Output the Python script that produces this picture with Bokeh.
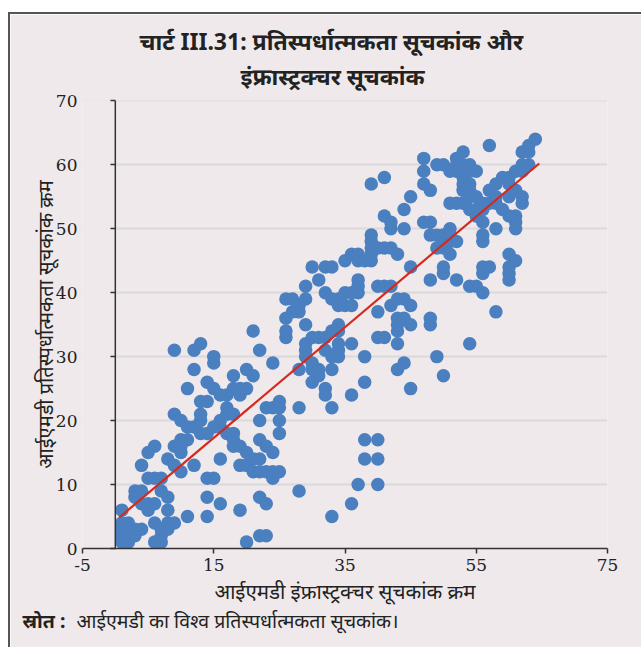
from bokeh.plotting import figure
from bokeh.models import FixedTicker, Title, Span
from bokeh.embed import file_html
from bokeh.resources import INLINE

# IMD infrastructure index rank (x) vs IMD competitiveness index rank (y)
infra_rank = [
    1, 1, 1, 1, 1,
    2, 2, 2, 2,
    3, 3, 3, 3,
    4, 4, 4, 4,
    5, 5, 5, 5,
    6, 6, 6, 6, 6,
    7, 7, 7, 7, 7,
    8, 8, 8, 8, 8,
    9, 9, 9, 9, 9,
    10, 10, 10, 10, 10,
    11, 11, 11, 11,
    12, 12, 12, 12,
    13, 13, 13, 13, 13,
    14, 14, 14, 14, 14, 14,
    15, 15, 15, 15, 15,
    16, 16, 16, 16, 16,
    17, 17, 17, 17,
    18, 18, 18, 18, 18, 18,
    19, 19, 19, 19, 19,
    20, 20, 20, 20, 20,
    21, 21, 21, 21,
    22, 22, 22, 22, 22, 22, 22,
    23, 23, 23, 23, 23,
    24, 24, 24, 24, 24,
    25, 25, 25, 25, 25,
    26, 26, 26, 26,
    27, 27,
    28, 28, 28, 28, 28,
    29, 29, 29, 29, 29, 29,
    30, 30, 30, 30, 30,
    31, 31, 31, 31,
    32, 32, 32, 32, 32, 32,
    33, 33, 33, 33, 33, 33, 33,
    34, 34, 34, 34, 34, 34, 34,
    35, 35, 35,
    36, 36, 36, 36, 36, 36,
    37, 37, 37, 37, 37, 37,
    38, 38, 38, 38, 38,
    39, 39, 39, 39, 39, 39,
    40, 40, 40, 40, 40, 40, 40,
    41, 41, 41, 41, 41,
    42, 42, 42, 42, 42,
    43, 43, 43, 43, 43, 43, 43,
    44, 44, 44, 44, 44,
    45, 45, 45, 45, 45,
    47, 47, 47, 47,
    48, 48, 48, 48, 48, 48,
    49, 49, 49, 49,
    50, 50, 50, 50, 50, 50, 50,
    51, 51, 51, 51, 51, 51,
    52, 52, 52, 52, 52, 52,
    53, 53, 53, 53, 53, 53,
    54, 54, 54, 54, 54, 54, 54, 54,
    55, 55, 55, 55, 55,
    56, 56, 56, 56, 56, 56, 56, 56,
    57, 57, 57, 57,
    58, 58, 58, 58, 58,
    59, 59,
    60, 60, 60, 60, 60, 60, 60, 60,
    61, 61, 61, 61, 61, 61,
    62, 62, 62, 62, 62,
    63, 63, 63,
    64,
]
comp_rank = [
    1, 2, 3, 4, 6,
    1, 2, 3, 4,
    2, 3, 8, 9,
    3, 7, 9, 13,
    6, 7, 11, 15,
    1, 4, 7, 11, 16,
    1, 2, 3, 9, 11,
    3, 4, 6, 8, 14,
    4, 13, 16, 21, 31,
    12, 15, 16, 17, 20,
    5, 17, 19, 25,
    13, 19, 28, 31,
    18, 20, 21, 23, 32,
    5, 8, 11, 18, 23, 26,
    11, 19, 25, 29, 30,
    7, 14, 19, 20, 24,
    18, 21, 22, 24,
    16, 17, 18, 21, 25, 27,
    6, 13, 16, 24, 25,
    1, 13, 15, 25, 28,
    12, 14, 27, 34,
    2, 8, 12, 14, 17, 20, 31,
    2, 7, 12, 16, 22,
    11, 12, 15, 22, 29,
    12, 18, 20, 22, 23,
    33, 34, 36, 39,
    37, 39,
    9, 22, 28, 37, 38,
    30, 31, 32, 35, 39, 41,
    26, 28, 29, 33, 44,
    27, 28, 33, 42,
    24, 25, 31, 33, 40, 44,
    5, 22, 28, 30, 34, 39, 44,
    30, 31, 32, 34, 35, 38, 39,
    38, 40, 45,
    7, 24, 32, 38, 40, 46,
    10, 40, 41, 42, 45, 46,
    14, 17, 26, 30, 45,
    45, 46, 47, 48, 49, 57,
    10, 14, 17, 33, 37, 41, 47,
    33, 41, 47, 52, 58,
    38, 41, 47, 50, 51,
    28, 32, 34, 35, 36, 39, 46,
    29, 36, 39, 50, 53,
    25, 35, 38, 44, 55,
    51, 57, 59, 61,
    35, 36, 42, 49, 51, 56,
    30, 47, 49, 60,
    27, 43, 44, 47, 48, 49, 60,
    46, 48, 49, 50, 54, 59,
    42, 48, 54, 59, 60, 61,
    54, 56, 57, 58, 60, 62,
    32, 41, 53, 55, 56, 57, 59, 60,
    41, 52, 53, 55, 59,
    40, 43, 44, 48, 49, 51, 53, 54,
    44, 54, 56, 63,
    37, 50, 54, 55, 57,
    53, 58,
    42, 43, 44, 46, 52, 55, 57, 58,
    45, 50, 51, 52, 56, 59,
    54, 55, 59, 60, 62,
    60, 62, 63,
    64,
]

# linear trend line (end points)
trend_x = [0.6, 64.6]
trend_y = [4.85, 60.2]

x_ticks = [-5, 15, 35, 55, 75]
y_ticks = [0, 10, 20, 30, 40, 50, 60, 70]

title_line1 = "चार्ट III.31: प्रतिस्पर्धात्मकता सूचकांक और"
title_line2 = "इंफ्रास्ट्रक्चर सूचकांक"
x_label = "आईएमडी इंफ्रास्ट्रक्चर सूचकांक क्रम"
y_label = "आईएमडी प्रतिस्पर्धात्मकता सूचकांक क्रम"
source_head = "स्रोत :"
source_text = "आईएमडी का विश्व प्रतिस्पर्धात्मकता सूचकांक।"

BG = "#EFE9EB"
AX = "#333333"
TXT = "#222222"
DEV = "Noto Sans"
NUM = "DejaVu Serif"

p = figure(frame_width=525, frame_height=448,
           x_range=(-5, 75), y_range=(0, 70.05),
           output_backend="svg", toolbar_location=None,
           min_border_left=72, min_border_right=34,
           min_border_top=86, min_border_bottom=99,
           background_fill_color=BG, border_fill_color=BG)
p.outline_line_color = None
p.styles = {"margin-left": "8px", "margin-top": "12px",
            "border-left": "2px solid #555555", "border-top": "2px solid #555555"}

# horizontal grid (hidden left of the vertical axis)
p.xgrid.visible = False
g = p.ygrid[0]
g.ticker = FixedTicker(ticks=y_ticks)
g.grid_line_color = "#DADADA"
g.grid_line_width = 2
p.quad(left=[-5], right=[-0.15], bottom=[0], top=[70.05], fill_color=BG, line_color=None)

# x axis
xa = p.xaxis[0]
xa.ticker = FixedTicker(ticks=x_ticks)
xa.major_label_overrides = {-5: "-5"}
xa.axis_line_color = AX
xa.axis_line_width = 1.5
xa.major_tick_line_color = AX
xa.major_tick_line_width = 1.5
xa.major_tick_in = 0
xa.major_tick_out = 5
xa.minor_tick_line_color = None
xa.major_label_text_font = NUM
xa.major_label_text_font_size = "17px"
xa.major_label_text_color = TXT
xa.major_label_standoff = 5
xa.axis_label = x_label
xa.axis_label_text_font = DEV
xa.axis_label_text_font_size = "20.5px"
xa.axis_label_text_font_style = "normal"
xa.axis_label_text_color = TXT
xa.axis_label_standoff = 3

# y axis: vertical line crosses the x axis at 0; ticks and labels drawn next to it
ya = p.yaxis[0]
ya.ticker = FixedTicker(ticks=y_ticks)
ya.axis_line_color = None
ya.major_tick_line_color = AX
ya.major_tick_line_width = 1.5
ya.major_tick_out = -28
ya.major_tick_in = 33
ya.minor_tick_line_color = None
ya.major_label_text_font = NUM
ya.major_label_text_font_size = "17px"
ya.major_label_text_color = TXT
ya.major_label_standoff = 5
ya.axis_label = y_label
ya.axis_label_text_font = DEV
ya.axis_label_text_font_size = "20px"
ya.axis_label_text_font_style = "normal"
ya.axis_label_text_color = TXT
ya.axis_label_standoff = -6
p.add_layout(Span(location=0, dimension="height", line_color=AX, line_width=1.5))

# data
p.scatter(infra_rank, comp_rank, size=13.5, marker="circle",
          fill_color="#4A7FC0", line_color="#4A7FC0", line_width=0)
p.line(trend_x, trend_y, line_color="#D42A1E", line_width=2.2)

# titles (inner line first)
p.add_layout(Title(text=title_line2, align="left", offset=158, text_font=DEV,
                   text_font_size="23px", text_font_style="bold", text_color=TXT,
                   standoff=18), "above")
p.add_layout(Title(text=title_line1, align="left", offset=57, text_font=DEV,
                   text_font_size="23px", text_font_style="bold", text_color=TXT,
                   standoff=-16), "above")

# source line: normal part, then bold head overlaid on the same row
p.add_layout(Title(text=source_text, align="left", offset=-6, vertical_align="top",
                   text_font=DEV, text_font_size="19.5px", text_font_style="normal",
                   text_color=TXT, standoff=-2), "below")
p.add_layout(Title(text=source_head, align="left", offset=-60, vertical_align="top",
                   text_font=DEV, text_font_size="19.5px", text_font_style="bold",
                   text_color=TXT, standoff=-55), "below")

open("out.html", "w").write(file_html(p, INLINE))
